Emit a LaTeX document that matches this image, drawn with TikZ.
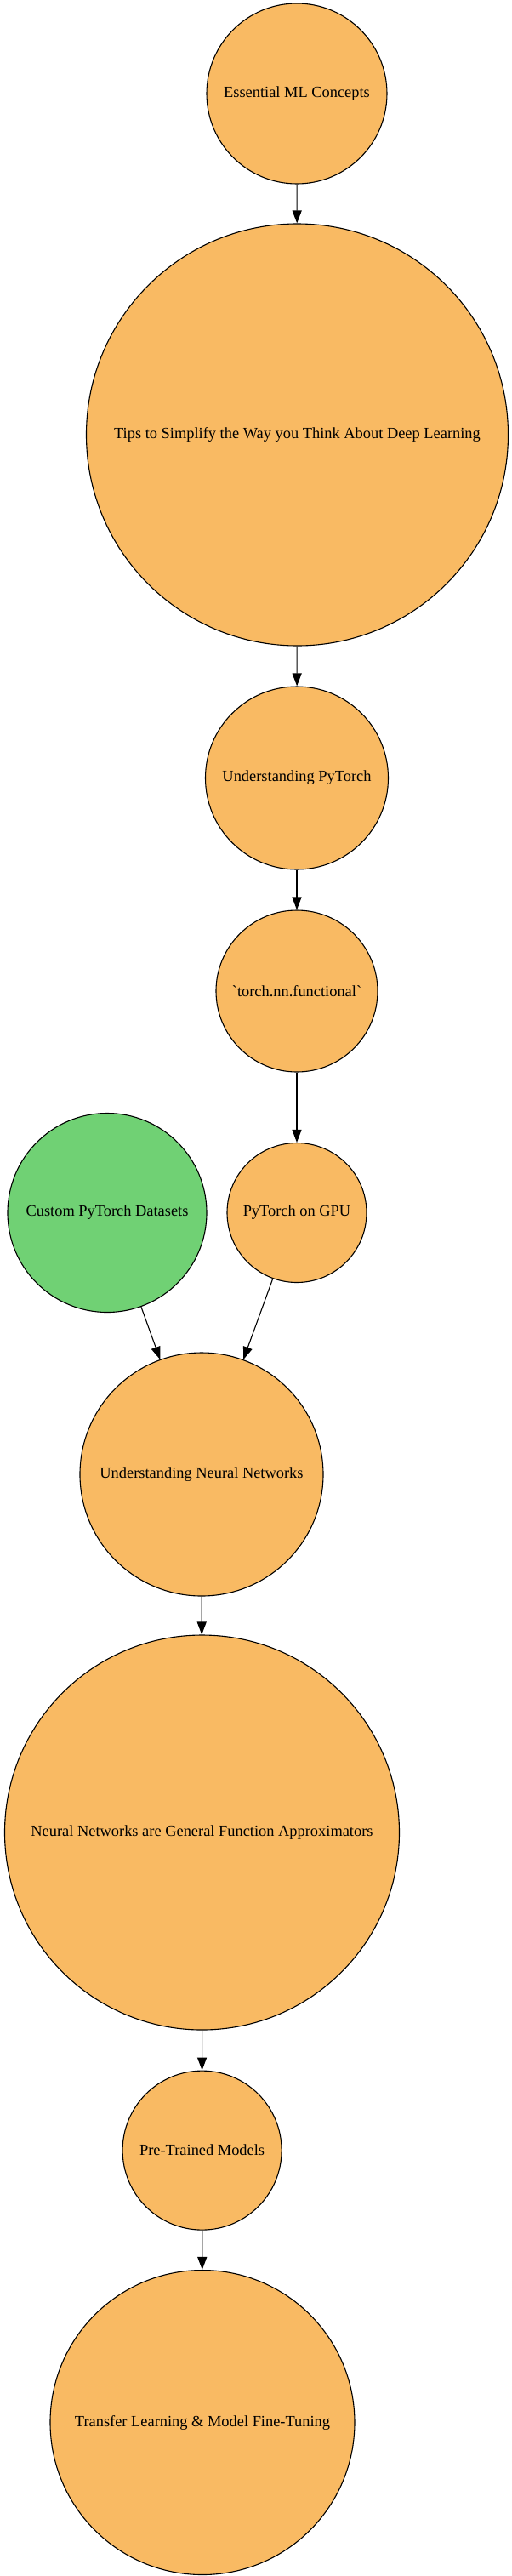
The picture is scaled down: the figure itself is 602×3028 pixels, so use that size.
\documentclass[tikz,border=0pt]{standalone}
\usepackage{fontspec}
\newfontfamily\nodefont{Liberation Serif}
\usetikzlibrary{arrows.meta}
\definecolor{orangefill}{HTML}{F9BA63}
\definecolor{greenfill}{HTML}{70D174}
\tikzset{
  topic/.style={circle, draw=black, line width=1.1pt, fill=orangefill, inner sep=0pt, font=\nodefont\fontsize{18.4}{22}\selectfont},
  extra/.style={topic, fill=greenfill},
  link/.style={line width=1.1pt, -{Triangle[length=15pt,width=11pt]}}
}
\begin{document}
\begin{tikzpicture}[x=1pt,y=-1pt]
\useasboundingbox (0,0) rectangle (602,3028);
\node[topic, minimum size=212pt] (e) at (349,110) {Essential ML Concepts};
\node[topic, minimum size=496pt] (tips) at (349.5,511) {Tips to Simplify the Way you Think About Deep Learning};
\node[topic, minimum size=215pt] (upt) at (349,914.5) {Understanding PyTorch};
\node[topic, minimum size=190pt] (tnf) at (349,1165) {`torch.nn.functional`};
\node[topic, minimum size=164pt] (gpu) at (349,1425.5) {PyTorch on GPU};
\node[extra, minimum size=234pt] (cust) at (126,1425.5) {Custom PyTorch Datasets};
\node[topic, minimum size=286pt] (unn) at (237,1733) {Understanding Neural Networks};
\node[topic, minimum size=464pt] (nngfa) at (237.5,2154) {Neural Networks are General Function Approximators};
\node[topic, minimum size=187pt] (ptm) at (237.6,2527.6) {Pre-Trained Models};
\node[topic, minimum size=358pt] (tl) at (238,2847.5) {Transfer Learning \& Model Fine-Tuning};
\draw[link] (e) -- (tips);
\draw[link] (tips) -- (upt);
\draw[link] (upt) -- (tnf);
\draw[link] (tnf) -- (gpu);
\draw[link] (gpu) -- (unn);
\draw[link] (cust) -- (unn);
\draw[link] (unn) -- (nngfa);
\draw[link] (nngfa) -- (ptm);
\draw[link] (ptm) -- (tl);
\end{tikzpicture}
\end{document}
